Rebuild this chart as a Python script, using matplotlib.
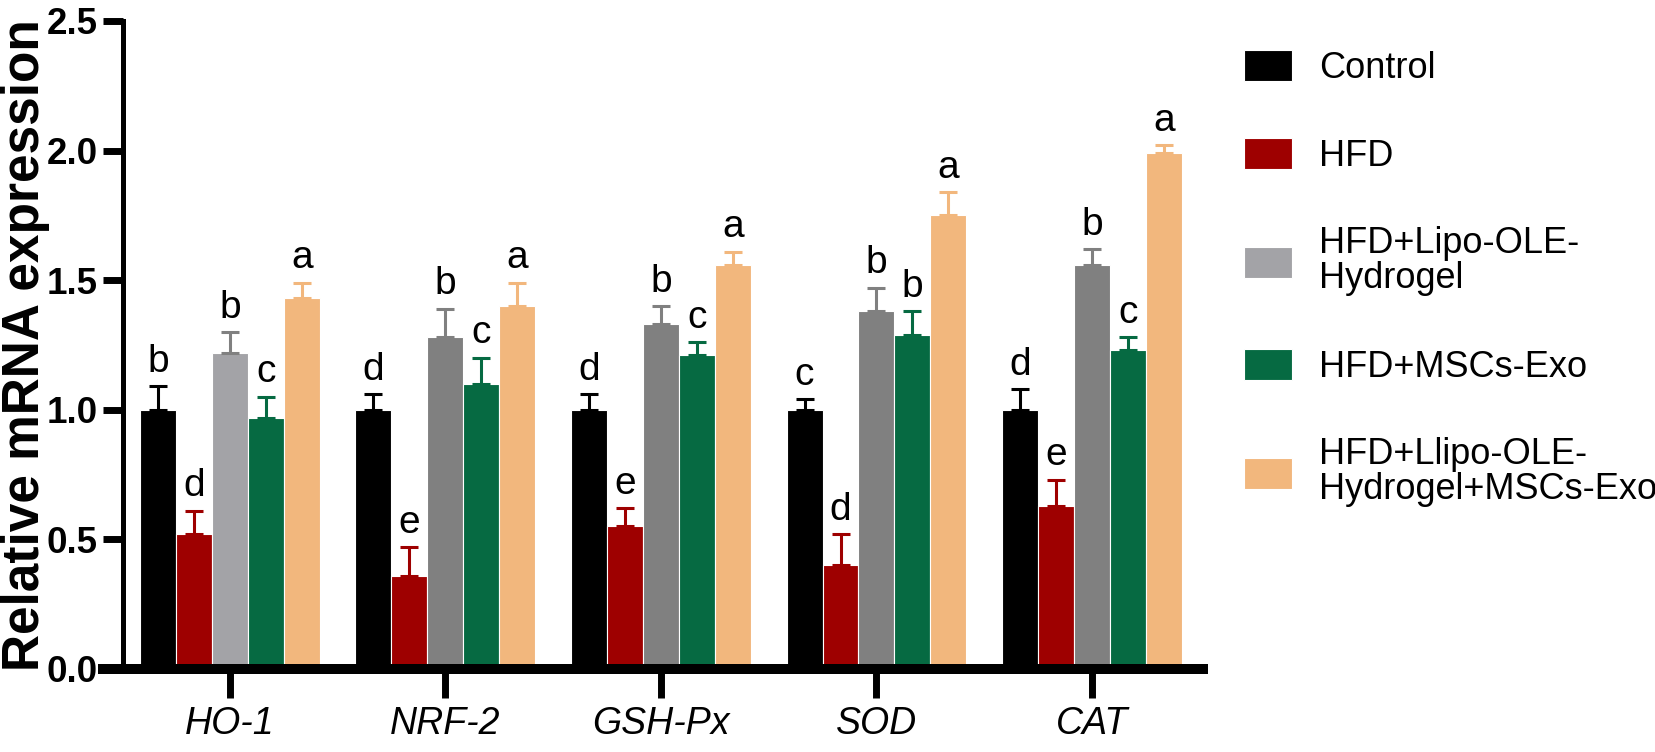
import matplotlib.pyplot as plt
import numpy as np

plt.rcParams['font.family'] = ['Liberation Sans', 'DejaVu Sans']

# genes on the x axis
genes = ["HO-1", "NRF-2", "GSH-Px", "SOD", "CAT"]
# treatment groups
groups = ["Control", "HFD", "HFD+Lipo-OLE-\nHydrogel", "HFD+MSCs-Exo",
          "HFD+Llipo-OLE-\nHydrogel+MSCs-Exo"]

control = [1.00, 1.00, 1.00, 1.00, 1.00]
hfd     = [0.52, 0.36, 0.55, 0.40, 0.63]
lipo    = [1.22, 1.28, 1.33, 1.38, 1.56]
msc     = [0.97, 1.10, 1.21, 1.29, 1.23]
combo   = [1.43, 1.40, 1.56, 1.75, 1.99]

control_err = [0.09, 0.06, 0.06, 0.04, 0.08]
hfd_err     = [0.09, 0.11, 0.07, 0.12, 0.10]
lipo_err    = [0.08, 0.11, 0.07, 0.09, 0.06]
msc_err     = [0.08, 0.10, 0.05, 0.09, 0.05]
combo_err   = [0.06, 0.09, 0.05, 0.09, 0.03]

# significance letters
control_sig = ["b", "d", "d", "c", "d"]
hfd_sig     = ["d", "e", "e", "d", "e"]
lipo_sig    = ["b", "b", "b", "b", "b"]
msc_sig     = ["c", "c", "c", "b", "c"]
combo_sig   = ["a", "a", "a", "a", "a"]

data = [control, hfd, lipo, msc, combo]
errs = [control_err, hfd_err, lipo_err, msc_err, combo_err]
sigs = [control_sig, hfd_sig, lipo_sig, msc_sig, combo_sig]
colors = ["#000000", "#9e0000", "#808080", "#066a42", "#f2b77d"]

W, H = 1655, 752
fig = plt.figure(figsize=(W / 100, H / 100), dpi=100)
ax = fig.add_axes([103 / W, 83 / H, 1100 / W, 648 / H])

# spines first: set_position resets the ticks
ax.spines["top"].set_visible(False)
ax.spines["right"].set_visible(False)
ax.spines["left"].set_position(("data", -0.4965))
ax.spines["left"].set_linewidth(3.6)
ax.spines["bottom"].set_linewidth(7.2)

x = np.arange(len(genes))
bw = 0.167
handles = []
for i, (vals, e, s) in enumerate(zip(data, errs, sigs)):
    pos = x + (i - 2) * bw
    bars = ax.bar(pos, vals, width=bw, color=colors[i], edgecolor="white",
                  linewidth=0.8, zorder=2)
    handles.append(bars)
    ax.errorbar(pos, vals, yerr=[np.zeros(len(vals)), e], fmt="none",
                ecolor=colors[i], elinewidth=2.2, capsize=6.5, capthick=2.2,
                zorder=3)
    for p, v, ee, t in zip(pos, vals, e, s):
        ax.text(p, v + ee + 0.025, t, ha="center", va="bottom", fontsize=28)

# lighter grey bar in HO-1, as in the original
handles[2][0].set_facecolor("#a3a3a7")

ax.set_xlim(-0.589, 4.515)
ax.set_ylim(0, 2.5)
ax.set_yticks([0, 0.5, 1.0, 1.5, 2.0, 2.5])
ax.set_yticklabels(["0.0", "0.5", "1.0", "1.5", "2.0", "2.5"],
                   fontsize=26.5, fontweight="bold")
ax.set_xticks(x)
ax.set_xticklabels(genes, fontsize=27, style="italic")
ax.tick_params(axis="y", length=14.4, width=5, pad=4)
ax.tick_params(axis="x", length=21, width=5, pad=6)

ax.set_ylabel("Relative mRNA expression", fontsize=37, fontweight="bold")
ax.yaxis.set_label_coords(-0.048, 0.5)

leg = ax.legend(handles, groups, loc="upper left",
                bbox_to_anchor=(1244 / W, (H - 50) / H),
                bbox_transform=fig.transFigure, frameon=False, fontsize=26,
                handlelength=1.33, handleheight=0.94, handletextpad=0.75,
                labelspacing=1.45, borderpad=0, borderaxespad=0)
for t in leg.get_texts():
    t.set_linespacing(1.0)

fig.savefig("out.png", dpi=100)
